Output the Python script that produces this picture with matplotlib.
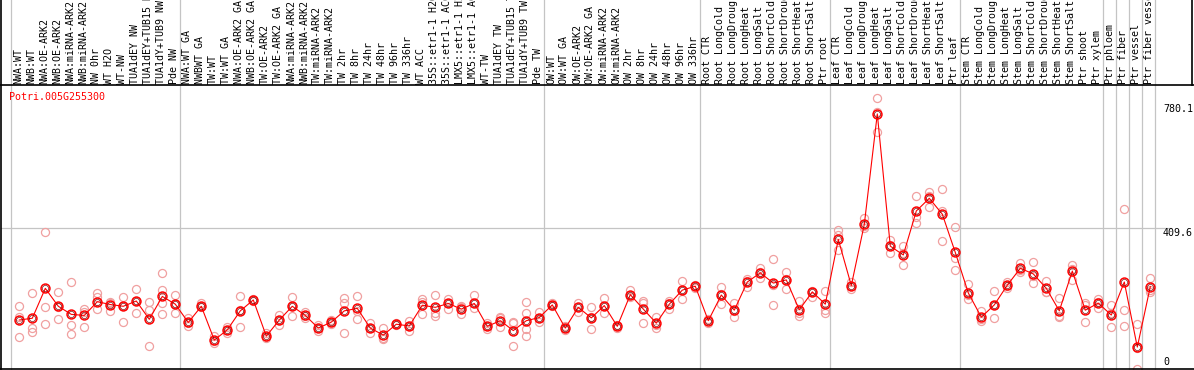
import numpy as np
import matplotlib
matplotlib.use("Agg")
import matplotlib.pyplot as plt
from matplotlib.transforms import blended_transform_factory
from matplotlib.lines import Line2D

gene = "Potri.005G255300"

labels = ["NWA:WT", "NWB:WT", "NWA:OE-ARK2", "NWB:OE-ARK2", "NWA:miRNA-ARK2",
          "NWB:miRNA-ARK2", "NW 0hr", "WT H2O", "WT-NW", "TUA1dEY NW",
          "TUA1dEY+TUB15 NW", "TUA1dY+TUB9 NW", "Pde NW", "NWA:WT GA", "NWBWT GA",
          "TW:WT", "TW:WT GA", "NWA:OE-ARK2 GA", "NWB:OE-ARK2 GA", "TW:OE-ARK2",
          "TW:OE-ARK2 GA", "NWA:miRNA-ARK2", "NWB:miRNA-ARK2", "TW:miRNA-ARK2",
          "TW:miRNA-ARK2", "TW 2hr", "TW 8hr", "TW 24hr", "TW 48hr", "TW 96hr",
          "TW 336hr", "WT ACC", "35S::etr1-1 H2O", "35S::etr1-1 ACC",
          "LMX5::etr1-1 H2O", "LMX5::etr1-1 ACC", "WT-TW", "TUA1dEY TW",
          "TUA1dEY+TUB15 TW", "TUA1dY+TUB9 TW", "Pde TW", "OW:WT", "OW:WT GA",
          "OW:OE-ARK2", "OW:OE-ARK2 GA", "OW:miRNA-ARK2", "OW:miRNA-ARK2",
          "OW 2hr", "OW 8hr", "OW 24hr", "OW 48hr", "OW 96hr", "OW 336hr",
          "Root CTR", "Root LongCold", "Root LongDrought", "Root LongHeat",
          "Root LongSalt", "Root ShortCold", "Root ShortDrought", "Root ShortHeat",
          "Root ShortSalt", "Ptr root", "Leaf CTR", "Leaf LongCold",
          "Leaf LongDrought", "Leaf LongHeat", "Leaf LongSalt", "Leaf ShortCold",
          "Leaf ShortDrought", "Leaf ShortHeat", "Leaf ShortSalt", "Ptr leaf",
          "Stem CTR", "Stem LongCold", "Stem LongDrought", "Stem LongHeat",
          "Stem LongSalt", "Stem ShortCold", "Stem ShortDrought", "Stem ShortHeat",
          "Stem ShortSalt", "Ptr shoot", "Ptr xylem", "Ptr phloem", "Ptr fiber",
          "Ptr vessel", "Ptr fiber vessel"]

means = [149, 154, 239, 188, 165, 162, 201, 193, 188, 203,
         151, 216, 194, 142, 188, 92, 121, 175, 206, 103,
         149, 188, 162, 126, 143, 175, 182, 126, 106, 137,
         132, 191, 185, 196, 180, 196, 131, 147, 119, 147,
         156, 192, 126, 185, 155, 190, 131, 221, 180, 140,
         194, 234, 245, 147, 220, 177, 257, 283, 254, 263,
         178, 229, 194, 378, 247, 421, 735, 359, 334, 459,
         495, 450, 341, 226, 157, 192, 248, 296, 280, 239,
         175, 288, 177, 197, 163, 257, 72, 244]

reps = [[189, 157, 100], [225, 126, 114], [398, 185, 137], [228, 151, 186],
        [256, 134, 108], [181, 128, 173], [225, 215, 181], [200, 174, 196],
        [213, 142, 190], [236, 168, 204], [199, 177, 74], [283, 233, 196, 166],
        [219, 169, 194], [155, 132, 140], [196, 186, 190], [103, 83, 90],
        [129, 113, 121], [217, 130, 178], [208, 204, 206], [111, 98, 101],
        [163, 134, 150], [214, 160, 190], [173, 155, 160], [136, 117, 126],
        [149, 138, 143], [211, 198, 112], [217, 153, 175], [141, 111, 126],
        [126, 94, 98], [140, 134, 137], [147, 117, 132], [208, 166, 200],
        [220, 170, 160], [210, 181, 196], [189, 166, 185], [220, 183, 196],
        [140, 124, 131], [157, 130, 155], [140, 75, 142], [200, 168, 123, 103],
        [173, 144, 156], [196, 188, 192], [131, 121, 126], [196, 173, 185],
        [185, 123, 157], [212, 170, 190], [136, 126, 131], [234, 214, 221],
        [204, 196, 140], [158, 126, 136], [204, 179, 198], [260, 208, 234],
        [249, 241, 245], [150, 140, 151], [242, 194, 224], [198, 158, 175],
        [266, 244, 261], [296, 268, 285], [322, 191, 249], [286, 238, 265],
        [204, 170, 160], [232, 213, 229], [232, 177, 168], [405, 391, 348],
        [258, 236, 247], [438, 410, 415], [780, 684, 741], [376, 340, 361],
        [359, 304, 339], [503, 443, 426], [513, 469, 503], [521, 460, 374],
        [413, 324, 291], [251, 208, 219], [175, 145, 151], [231, 154, 191],
        [257, 240, 247], [312, 290, 285], [314, 253, 273], [260, 228, 229],
        [211, 158, 160], [306, 263, 295], [198, 142, 191], [210, 182, 200],
        [192, 128, 170], [465, 177, 131], [137, 9, 70], [268, 229, 235]]

group_starts = [0, 13, 41, 53, 63, 73, 84, 85, 86, 87, 88]
ytick_vals = ["780.1", "409.6", "0"]
mid_val = 409.6

W, H = 1194, 370
def fx(px):
    return px / W
def fy(py):
    return 1 - py / H

fig = plt.figure(figsize=(W / 100, H / 100), dpi=100)
ax = fig.add_axes([fx(1), fy(369), fx(1192) - fx(1), fy(85) - fy(369)])
ax.set_xlim((1 - 19.3) / 13, (1192 - 19.3) / 13)
ax.set_ylim(9.67, 817.2)
ax.axis("off")

mono = "DejaVu Sans Mono"
grid_c = "#c4c4c4"

# vertical group separators run over the full height
trans_lab = blended_transform_factory(ax.transData, fig.transFigure)
for g in group_starts:
    ax.add_line(Line2D([g - 0.62, g - 0.62], [0, 1], transform=trans_lab,
                       color=grid_c, lw=0.9, clip_on=False, zorder=0))
ax.plot([-1.5, 88.6], [mid_val, mid_val], color=grid_c, lw=0.9, zorder=0)

x = np.arange(len(means))
for i, r in enumerate(reps):
    ax.plot([i] * len(r), r, "o", ms=5.8, mfc="none", mec="#f0a0a0",
            mew=0.9, zorder=2, clip_on=False)
ax.plot(x, means, "-", color="red", lw=0.8, zorder=3)
ax.plot(x, means, "o", ms=6.4, mfc="none", mec="red", mew=1.1, zorder=4)
ax.plot(x, means, "o", ms=4.4, mfc="none", mec="#700000", mew=0.45, zorder=5)

for i, lab in enumerate(labels):
    ax.text(i - 0.08, fy(83.5), lab, transform=trans_lab, rotation=90,
            ha="center", va="bottom", fontsize=7.2, family=mono,
            color="black", clip_on=False)

fig.text(fx(9), fy(97), gene, color="red", fontsize=7.2, family=mono,
         ha="left", va="center")
for lab, py in zip(ytick_vals, [109, 232.7, 361.7]):
    fig.text(fx(1163), fy(py), lab, fontsize=7.2, family=mono,
             ha="left", va="center")

# frame lines
for xs, ys in [([1, 1], [0, 369]), ([0, 1194], [85, 85]),
               ([0, 1194], [369, 369]), ([1191.5, 1191.5], [0, 85])]:
    fig.add_artist(Line2D([fx(v) for v in xs], [fy(v) for v in ys],
                          color="black", lw=1.2))

fig.savefig("out.png", dpi=100)
